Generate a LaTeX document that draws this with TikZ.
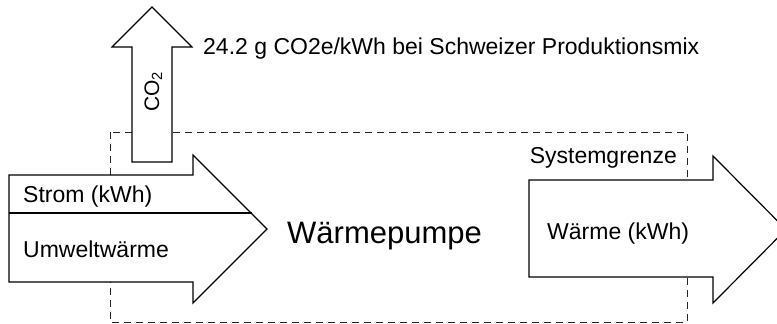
\documentclass[tikz,border=0pt]{standalone}
\usepackage{fontspec}
\setmainfont{Liberation Sans}
\begin{document}
\begin{tikzpicture}[x=1pt,y=-1pt,
  arrowshape/.style={draw=black,fill=white,line width=1.2pt,line join=miter},
  boundary/.style={draw=black!85,line width=1pt,dash pattern=on 7pt off 5pt},
  lbl/.style={inner sep=0pt,font=\fontsize{23}{27}\selectfont},
  biglbl/.style={inner sep=0pt,font=\fontsize{31}{36}\selectfont}]
\useasboundingbox (0,0) rectangle (777,324);
% system boundary
\draw[boundary] (110,132) rectangle (687,322);
% CO2 arrow
\draw[arrowshape] (132,162) -- (132,47) -- (112,47) -- (152,7) -- (192,47) -- (172,47) -- (172,162) -- cycle;
\node[lbl,rotate=90,anchor=base west,font=\fontsize{21}{25}\selectfont] (co2) at (159,112) {CO\textsubscript{2}};
% input arrow
\draw[arrowshape] (9,175) -- (193,175) -- (193,155) -- (267,229) -- (193,303) -- (193,282) -- (9,282) -- cycle;
\draw[line width=1.2pt] (9,213) -- (252,213);
% output arrow
\draw[arrowshape] (529,180) -- (713,180) -- (713,156) -- (786,229.5) -- (713,303) -- (713,277) -- (529,277) -- cycle;
% texts
\node[lbl,anchor=base west] (co2txt) at (203,54) {24.2 g CO2e/kWh bei Schweizer Produktionsmix};
\node[lbl,anchor=base west] (strom) at (23,202) {Strom (kWh)};
\node[lbl,anchor=base west] (umwelt) at (23,257) {Umweltwärme};
\node[biglbl,anchor=base west] (wp) at (287,243) {Wärmepumpe};
\node[lbl,anchor=base west] (waerme) at (547,239.5) {Wärme (kWh)};
\node[lbl,anchor=base east] (sys) at (677,163) {Systemgrenze};
\end{tikzpicture}
\end{document}
